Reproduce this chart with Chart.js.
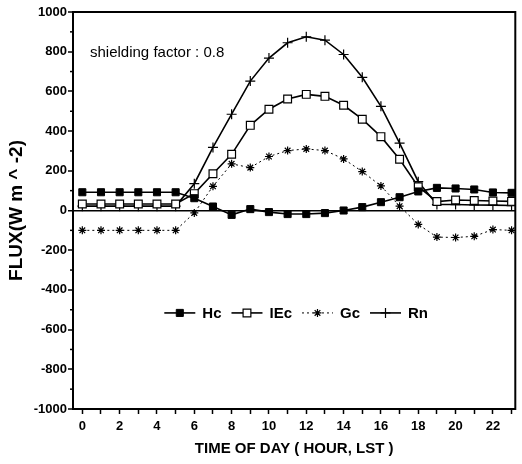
<!DOCTYPE html>
<html>
<head>
<meta charset="utf-8">
<script src="https://cdn.jsdelivr.net/npm/chart.js@4"></script>
<style>
  html, body { margin: 0; padding: 0; background: #fff; }
  #wrap { width: 522px; height: 464px; }
</style>
</head>
<body>
<div id="wrap"><canvas id="fluxChart" width="522" height="464"></canvas></div>
<script>
const FONT = '"Liberation Sans", Arial, sans-serif';

// hour of day (LST)
const hours = [0, 1, 2, 3, 4, 5, 6, 7, 8, 9, 10, 11, 12, 13, 14, 15, 16, 17, 18, 19, 20, 21, 22, 23];
// fluxes, W m^-2
const hc  = [92, 92, 92, 92, 92, 92, 62, 20, -22, 7, -8, -18, -18, -13, 0, 17, 42, 67, 96, 114, 111, 106, 91, 89];
const iec = [33, 33, 33, 33, 33, 33, 85, 185, 283, 429, 510, 562, 585, 575, 530, 460, 372, 258, 120, 45, 53, 50, 48, 46];
const gc  = [-100, -100, -100, -100, -100, -100, -12, 122, 235, 216, 272, 302, 310, 302, 260, 196, 124, 22, -70, -134, -136, -130, -96, -100];
const rn  = [22, 22, 22, 22, 22, 22, 135, 318, 485, 652, 768, 845, 875, 858, 786, 671, 525, 339, 145, 30, 30, 28, 27, 25];

const seriesNames = ['Hc', 'IEc', 'Gc', 'Rn'];
const annotationText = 'shielding factor : 0.8';

function toPoints(values) {
    return values.map((v, i) => ({ x: hours[i], y: v }));
}

// marker drawing for the legend samples
function drawMarker(ctx, style, x, y, r, fill) {
    ctx.beginPath();
    if (style === 'rect') {
        const s = r * Math.SQRT1_2;
        ctx.rect(x - s, y - s, 2 * s, 2 * s);
        ctx.fillStyle = fill;
        ctx.fill();
        ctx.stroke();
    } else if (style === 'cross') {
        ctx.moveTo(x, y - r); ctx.lineTo(x, y + r);
        ctx.moveTo(x - r, y); ctx.lineTo(x + r, y);
        ctx.stroke();
    } else if (style === 'star') {
        ctx.moveTo(x, y - r); ctx.lineTo(x, y + r);
        ctx.moveTo(x - r, y); ctx.lineTo(x + r, y);
        const d = r * Math.SQRT1_2;
        ctx.moveTo(x - d, y - d); ctx.lineTo(x + d, y + d);
        ctx.moveTo(x - d, y + d); ctx.lineTo(x + d, y - d);
        ctx.stroke();
    }
}

const framePlugin = {
    id: 'frame',
    afterDatasetsDraw(chart) {
        const { ctx, chartArea } = chart;
        const yScale = chart.scales.y;
        ctx.save();
        ctx.strokeStyle = '#000';
        ctx.lineWidth = 2;
        ctx.strokeRect(chartArea.left, chartArea.top, chartArea.right - chartArea.left, chartArea.bottom - chartArea.top);
        // short minor ticks on the flux axis
        ctx.lineWidth = 1.5;
        yScale.ticks.forEach(t => {
            if (t.value % 200 !== 0) {
                const py = yScale.getPixelForValue(t.value);
                ctx.beginPath();
                ctx.moveTo(chartArea.left - 3, py);
                ctx.lineTo(chartArea.left, py);
                ctx.stroke();
            }
        });
        // label inside the plot
        ctx.fillStyle = '#000';
        ctx.font = '15px ' + FONT;
        ctx.textBaseline = 'middle';
        ctx.fillText(annotationText, chartArea.left + 17, chartArea.top + 41);
        ctx.restore();
    }
};

const legendPlugin = {
    id: 'insideLegend',
    afterDatasetsDraw(chart) {
        const { ctx, chartArea } = chart;
        const sample = 31, gap1 = 7, gap2 = 10;
        ctx.save();
        ctx.font = 'bold 15px ' + FONT;
        ctx.textBaseline = 'middle';
        let total = 0;
        chart.data.datasets.forEach(ds => {
            total += sample + gap1 + ctx.measureText(ds.label).width + gap2;
        });
        total -= gap2;
        let x = (chartArea.left + chartArea.right) / 2 - total / 2 + 2;
        const y = chartArea.top + (chartArea.bottom - chartArea.top) * 0.758;
        chart.data.datasets.forEach(ds => {
            ctx.strokeStyle = '#000';
            ctx.lineWidth = ds.borderWidth;
            ctx.setLineDash(ds.borderDash || []);
            ctx.beginPath();
            ctx.moveTo(x, y);
            ctx.lineTo(x + sample, y);
            ctx.stroke();
            ctx.setLineDash([]);
            ctx.lineWidth = ds.pointBorderWidth;
            drawMarker(ctx, ds.pointStyle, x + sample / 2, y, ds.pointRadius, ds.pointBackgroundColor);
            x += sample + gap1;
            ctx.fillStyle = '#000';
            ctx.fillText(ds.label, x, y + 1);
            x += ctx.measureText(ds.label).width + gap2;
        });
        ctx.restore();
    }
};

const ctx = document.getElementById('fluxChart').getContext('2d');
const fluxChart = new Chart(ctx, {
    type: 'line',
    data: {
        datasets: [
            { label: seriesNames[0], data: toPoints(hc), borderColor: '#000', borderWidth: 1.6,
              pointStyle: 'rect', pointRadius: 5, pointBorderWidth: 1, pointBackgroundColor: '#000', pointBorderColor: '#000' },
            { label: seriesNames[1], data: toPoints(iec), borderColor: '#000', borderWidth: 1.6,
              pointStyle: 'rect', pointRadius: 5.5, pointBorderWidth: 1.2, pointBackgroundColor: '#fff', pointBorderColor: '#000' },
            { label: seriesNames[2], data: toPoints(gc), borderColor: '#000', borderWidth: 1, borderDash: [2, 3],
              pointStyle: 'star', pointRadius: 4, pointBorderWidth: 1.2, pointBackgroundColor: '#000', pointBorderColor: '#000' },
            { label: seriesNames[3], data: toPoints(rn), borderColor: '#000', borderWidth: 1.6,
              pointStyle: 'cross', pointRadius: 5, pointBorderWidth: 1.2, pointBackgroundColor: '#000', pointBorderColor: '#000' }
        ]
    },
    options: {
        responsive: false,
        animation: false,
        layout: { padding: { top: 12, right: 3, left: 0, bottom: 0 } },
        plugins: {
            legend: { display: false },
            tooltip: { enabled: false }
        },
        elements: { line: { tension: 0 } },
        scales: {
            x: {
                type: 'linear',
                min: -0.5,
                max: 23.2,
                afterBuildTicks: scale => { scale.ticks = hours.map(h => ({ value: h })); },
                afterFit: scale => { scale.height = 55; },
                border: { color: '#000', width: 2 },
                grid: { drawOnChartArea: false, tickLength: 5, tickColor: '#000', tickWidth: 1.5 },
                ticks: {
                    autoSkip: false, maxRotation: 0, padding: 5, color: '#000',
                    font: { family: FONT, size: 13, weight: 'bold' },
                    callback: v => (v % 2 === 0 ? v : '')
                },
                title: {
                    display: true, text: 'TIME OF DAY ( HOUR, LST )', color: '#000',
                    font: { family: FONT, size: 15, weight: 'bold' },
                    padding: { top: 0, bottom: 6 }
                }
            },
            y: {
                min: -1000,
                max: 1000,
                afterFit: scale => { scale.width = 73; },
                border: { color: '#000', width: 2 },
                grid: {
                    drawOnChartArea: true, tickLength: 5, tickWidth: 1.5,
                    tickColor: c => (c.tick && c.tick.value % 200 === 0 ? '#000' : 'rgba(0,0,0,0)'),
                    color: c => (c.tick && c.tick.value === 0 ? '#000' : 'rgba(0,0,0,0)'),
                    lineWidth: c => (c.tick && c.tick.value === 0 ? 1.5 : 0)
                },
                ticks: {
                    stepSize: 100, autoSkip: false, padding: 1, color: '#000',
                    font: { family: FONT, size: 13, weight: 'bold' },
                    callback: v => (v % 200 === 0 ? v : '')
                },
                title: {
                    display: true, text: 'FLUX(W m ^ -2)', color: '#000',
                    font: { family: FONT, size: 19, weight: 'bold' },
                    padding: { top: 5, bottom: 0 }
                }
            }
        }
    },
    plugins: [framePlugin, legendPlugin]
});
</script>
</body>
</html>
